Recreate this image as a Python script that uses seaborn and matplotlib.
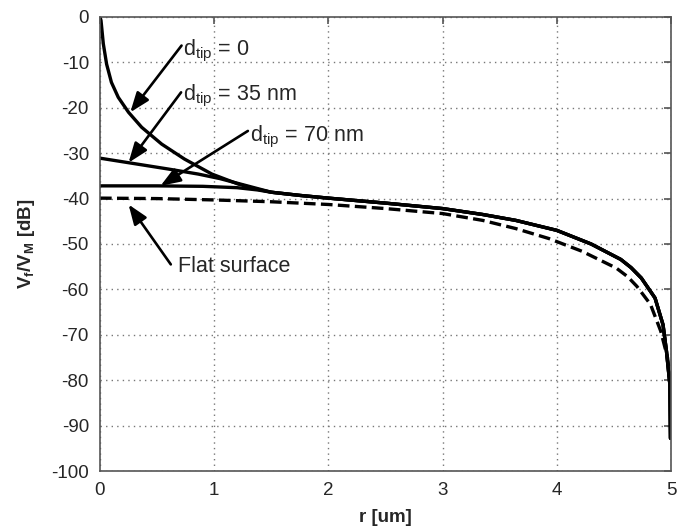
import matplotlib
matplotlib.use("Agg")
import matplotlib.pyplot as plt
import numpy as np
import pandas as pd
import seaborn as sns

# Values (r in um, V in dB)
r_tail = [1.5, 1.75, 2.0, 2.5, 3.0, 3.35, 3.64, 4.0, 4.3, 4.56, 4.65, 4.74, 4.86, 4.93, 4.96, 4.99, 4.995]
v_tail = [-38.6, -39.3, -39.9, -41.0, -42.2, -43.5, -44.8, -47.0, -50.0, -53.4, -55.2, -57.5, -61.9, -67.8, -73.6, -81.0, -92.8]

r_d0 = [0.0, 0.009, 0.029, 0.058, 0.10, 0.16, 0.25, 0.365, 0.54, 0.74, 0.98, 1.21, 1.35]
v_d0 = [0.0, -0.8, -5.9, -10.4, -14.4, -17.7, -21.0, -24.3, -28.0, -31.3, -34.6, -36.8, -37.8]

r_d35 = [0.0, 0.3, 0.6, 0.86, 1.05, 1.23, 1.38]
v_d35 = [-31.1, -32.3, -33.5, -34.6, -35.6, -36.8, -37.8]

r_d70 = [0.0, 0.5, 0.9, 1.2, 1.38]
v_d70 = [-37.2, -37.2, -37.3, -37.6, -38.1]

r_flat = [0.0, 0.5, 1.0, 1.5, 2.0, 2.5, 3.0, 3.35, 3.64, 3.93, 4.22, 4.52, 4.62, 4.7, 4.82, 4.91, 4.97, 4.99]
v_flat = [-39.9, -40.0, -40.3, -40.7, -41.3, -42.2, -43.3, -44.8, -46.6, -48.8, -51.6, -55.3, -57.2, -59.3, -63.3, -69.2, -75.1, -80.0]

x_ticks = [0, 1, 2, 3, 4, 5]
y_ticks = [0, -10, -20, -30, -40, -50, -60, -70, -80, -90, -100]

sns.set_style("white")
plt.rcParams['font.family'] = ['Liberation Sans', 'DejaVu Sans']
plt.rcParams['mathtext.fontset'] = 'custom'
plt.rcParams['mathtext.rm'] = 'Liberation Sans'
plt.rcParams['mathtext.it'] = 'Liberation Sans:italic'
plt.rcParams['mathtext.bf'] = 'Liberation Sans:bold'
plt.rcParams['axes.unicode_minus'] = False

fig = plt.figure(figsize=(6.92, 5.30), dpi=100)
ax = fig.add_axes([0.1445, 0.1113, 0.8252, 0.8567])

curves = []
for name, rr, vv in [("d0", r_d0, v_d0), ("d35", r_d35, v_d35), ("d70", r_d70, v_d70)]:
    curves.append(pd.DataFrame({"r": list(rr) + r_tail, "v": list(vv) + v_tail, "curve": name}))
df = pd.concat(curves, ignore_index=True)
flat = pd.DataFrame({"r": r_flat, "v": v_flat})

for name, g in df.groupby("curve"):
    sns.lineplot(data=g, x="r", y="v", color="black", lw=2.4, ax=ax, sort=False,
                 estimator=None)
sns.lineplot(data=flat, x="r", y="v", color="black", lw=2.4, ax=ax, sort=False,
             estimator=None, linestyle=(0, (3.5, 1.6)))

ax.set_xlim(0, 5)
ax.set_ylim(-100, 0)
ax.set_xticks(x_ticks)
ax.set_yticks(y_ticks)
ax.grid(True, linestyle=(0, (1, 3)), color='#777777', linewidth=1.0)
for s in ax.spines.values():
    s.set_color('#555555')
    s.set_linewidth(1.2)
ax.tick_params(direction='in', length=5, width=1.2, color='#555555',
               labelsize=13.5, top=True, right=True, pad=8)
ax.set_xlabel("r [um]", fontsize=13.5, fontweight='bold', labelpad=7)
ax.set_ylabel(r"V$_\mathbf{f}$/V$_\mathbf{M}$ [dB]", fontsize=13.5, fontweight='bold', labelpad=10)

arrow = dict(arrowstyle='-|>,head_length=0.8,head_width=0.3', color='black', lw=1.9,
             shrinkA=0, shrinkB=0, mutation_scale=15)

# (text, text x, text baseline, arrow tail, arrow head)
labels = [
    (r"d$_\mathrm{tip}$ = 0", 0.73, -8.5, (0.714, -6.3), (0.265, -21.0)),
    (r"d$_\mathrm{tip}$ = 35 nm", 0.73, -18.4, (0.71, -16.6), (0.25, -32.1)),
    (r"d$_\mathrm{tip}$ = 70 nm", 1.31, -27.3, (1.295, -25.1), (0.53, -37.2)),
    ("Flat surface", 0.68, -56.2, (0.62, -54.5), (0.25, -41.3)),
]
for txt, tx, ty, tail, head in labels:
    ax.text(tx, ty, txt, fontsize=15.5, ha='left', va='baseline')
    ax.annotate("", xy=head, xytext=tail, arrowprops=arrow)

fig.savefig("out.png", dpi=100, facecolor='white')
